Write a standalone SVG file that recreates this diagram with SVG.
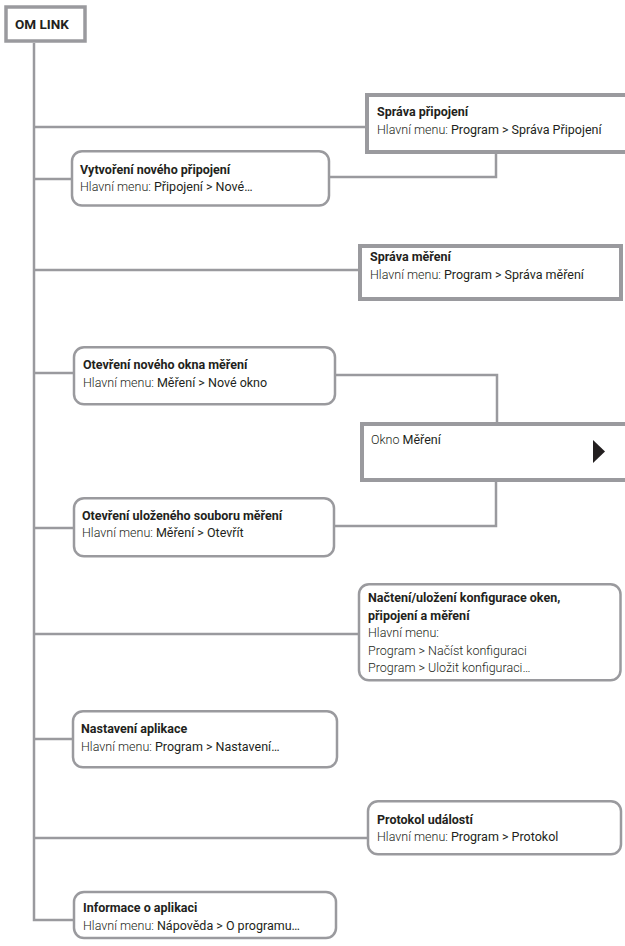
<svg xmlns="http://www.w3.org/2000/svg" width="625" height="946" viewBox="0 0 625 946">
<style>
.bg{fill:#ffffff}
.line{fill:none;stroke:#9a9a9e;stroke-width:2.5}
.thick{fill:#ffffff;stroke:#9a9a9e;stroke-width:4}
.round{fill:#ffffff;stroke:#9a9a9e;stroke-width:2.5}
text{font-family:Roboto,"Liberation Sans",sans-serif;font-size:12.5px;fill:#231f20}
.t{font-weight:700}
.l{font-weight:300}
.m{font-weight:400}
</style>
<rect class="bg" x="0" y="0" width="625" height="946"/>
<g id="connectors">
<polyline class="line" points="34,43 34,920 74,920"/>
<line class="line" x1="34" y1="127" x2="366" y2="127"/>
<line class="line" x1="34" y1="179" x2="72" y2="179"/>
<line class="line" x1="34" y1="270" x2="359" y2="270"/>
<line class="line" x1="34" y1="373" x2="74" y2="373"/>
<line class="line" x1="34" y1="528" x2="74" y2="528"/>
<line class="line" x1="34" y1="634" x2="359" y2="634"/>
<line class="line" x1="34" y1="739" x2="73" y2="739"/>
<line class="line" x1="34" y1="838" x2="368" y2="838"/>
<polyline class="line" points="329,177 496,177 496,153"/>
<polyline class="line" points="335,375 497,375 497,423"/>
<polyline class="line" points="496,481 496,526 334,526"/>
</g>
<g id="om-link">
<rect x="6" y="7" width="79" height="34" fill="#ffffff" stroke="#9a9a9e" stroke-width="3.5"/>
<text x="15" y="29" class="t" style="font-size:13.5px">OM LINK</text>
</g>
<g id="sprava-pripojeni">
<rect class="thick" x="367" y="95" width="262" height="57"/>
<text x="377" y="116" class="t">Správa připojení</text>
<text x="377" y="134"><tspan class="l">Hlavní menu: </tspan><tspan class="m">Program &gt; Správa Připojení</tspan></text>
</g>
<g id="vytvoreni">
<rect class="round" x="72" y="151.2" width="257" height="54.3" rx="10"/>
<text x="80" y="174" class="t">Vytvoření nového připojení</text>
<text x="80" y="191"><tspan class="l">Hlavní menu: </tspan><tspan class="m">Připojení &gt; Nové…</tspan></text>
</g>
<g id="sprava-mereni">
<rect class="thick" x="360" y="246" width="261" height="53"/>
<text x="370" y="261" class="t">Správa měření</text>
<text x="370" y="279"><tspan class="l">Hlavní menu: </tspan><tspan class="m">Program &gt; Správa měření</tspan></text>
</g>
<g id="otevreni-noveho">
<rect class="round" x="74" y="347.2" width="261" height="57" rx="10"/>
<text x="83" y="369" class="t">Otevření nového okna měření</text>
<text x="83" y="387"><tspan class="l">Hlavní menu: </tspan><tspan class="m">Měření &gt; Nové okno</tspan></text>
</g>
<g id="okno-mereni">
<rect class="thick" x="362" y="424" width="266" height="56"/>
<text x="371" y="444"><tspan class="l">Okno </tspan><tspan class="m">Měření</tspan></text>
<polygon points="593,440 605,451.5 593,463" fill="#231f20"/>
</g>
<g id="otevreni-ulozeneho">
<rect class="round" x="74" y="498.2" width="260" height="58" rx="10"/>
<text x="82" y="520" class="t">Otevření uloženého souboru měření</text>
<text x="82" y="537"><tspan class="l">Hlavní menu: </tspan><tspan class="m">Měření &gt; Otevřít</tspan></text>
</g>
<g id="nacteni">
<rect class="round" x="359" y="584.2" width="261.5" height="96" rx="10"/>
<text x="368" y="602" class="t">Načtení/uložení konfigurace oken,</text>
<text x="368" y="619.5" class="t">připojení a měření</text>
<text x="368" y="637" class="l">Hlavní menu:</text>
<text x="368" y="654.5" class="l">Program &gt; Načíst konfiguraci</text>
<text x="368" y="672" class="l">Program &gt; Uložit konfiguraci…</text>
</g>
<g id="nastaveni">
<rect class="round" x="73" y="711.2" width="264" height="56" rx="10"/>
<text x="81" y="733" class="t">Nastavení aplikace</text>
<text x="81" y="751"><tspan class="l">Hlavní menu: </tspan><tspan class="m">Program &gt; Nastavení…</tspan></text>
</g>
<g id="protokol">
<rect class="round" x="368" y="801.2" width="253" height="53" rx="10"/>
<text x="377" y="824" class="t">Protokol událostí</text>
<text x="377" y="841"><tspan class="l">Hlavní menu: </tspan><tspan class="m">Program &gt; Protokol</tspan></text>
</g>
<g id="informace">
<rect class="round" x="74" y="892" width="262" height="46" rx="10"/>
<text x="83" y="912" class="t">Informace o aplikaci</text>
<text x="83" y="930"><tspan class="l">Hlavní menu: </tspan><tspan class="m">Nápověda &gt; O programu…</tspan></text>
</g>
</svg>
